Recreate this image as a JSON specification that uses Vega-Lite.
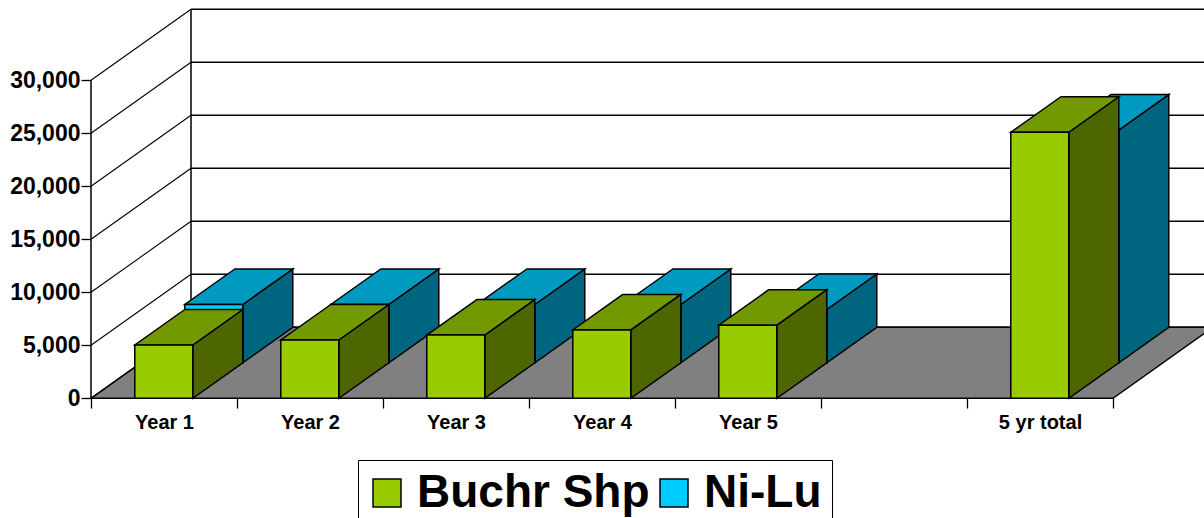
{"$schema":"https://vega.github.io/schema/vega-lite/v6.json","width":1204,"height":518,"autosize":"none","padding":0,"background":"white",
"datasets":{"bars":[
{"category":"Year 1","series":"Ni-Lu","value":5500},{"category":"Year 2","series":"Ni-Lu","value":5500},{"category":"Year 3","series":"Ni-Lu","value":5500},{"category":"Year 4","series":"Ni-Lu","value":5500},{"category":"Year 5","series":"Ni-Lu","value":5030},{"category":"5 yr total","series":"Ni-Lu","value":21960},
{"category":"Year 1","series":"Buchr Shp","value":5030},{"category":"Year 2","series":"Buchr Shp","value":5500},{"category":"Year 3","series":"Buchr Shp","value":5970},{"category":"Year 4","series":"Buchr Shp","value":6450},{"category":"Year 5","series":"Buchr Shp","value":6900},{"category":"5 yr total","series":"Buchr Shp","value":25100}],
"grid":[{"level":0},{"level":5000},{"level":10000},{"level":15000},{"level":20000},{"level":25000},{"level":30000}],
"floor":[{"depth":0},{"depth":1}]},
"encoding":{
"x":{"field":"xa","type":"quantitative","scale":{"domain":[-0.6233,7.6233],"nice":false,"zero":false},"axis":{"orient":"bottom","offset":-120,"title":null,"domain":false,"grid":false,"values":[0,0.5,1,1.5,2,2.5,3,3.5,4,4.5,5,5.5,6,6.5,7],"labelExpr":"datum.value%1===0?'':['Year 1','Year 2','Year 3','Year 4','Year 5','','5 yr total'][floor(datum.value)]","tickOpacity":{"condition":{"test":"datum.value%1===0","value":1},"value":0},"tickColor":"black","tickSize":10,"tickWidth":1.3,"labelFont":"Liberation Sans","labelFontWeight":"bold","labelFontSize":20,"labelColor":"black","labelPadding":4,"labelOverlap":false,"labelFlush":false,"labelBound":false}},
"y":{"field":"ya","type":"quantitative","scale":{"domain":[-11292,37576],"nice":false,"zero":false},"axis":{"orient":"left","offset":-91,"title":null,"domain":false,"grid":false,"values":[0,5000,10000,15000,20000,25000,30000],"format":",d","tickColor":"black","tickSize":10,"tickWidth":1.3,"labelFont":"Liberation Sans","labelFontWeight":"bold","labelFontSize":23,"labelColor":"black","labelPadding":1,"labelOverlap":false,"labelBound":false}}},
"layer":[
{"data":{"name":"grid"},"mark":{"type":"rule","stroke":"black","strokeWidth":1.4,"clip":true},"transform":[{"calculate":"0.685","as":"xa"},{"calculate":"8","as":"xb"},{"calculate":"datum.level+6698","as":"ya"}],"encoding":{"x2":{"field":"xb"}}},
{"data":{"name":"grid"},"mark":{"type":"rule","stroke":"black","strokeWidth":1.1},"transform":[{"calculate":"0.685","as":"xb"},{"calculate":"0","as":"xa"},{"calculate":"datum.level","as":"ya"},{"calculate":"datum.level+6698","as":"yb"}],"encoding":{"x2":{"field":"xb"},"y2":{"field":"yb"}}},
{"data":{"name":"floor"},"mark":{"type":"rule","stroke":"black","strokeWidth":1.5},"transform":[{"calculate":"datum.depth*0.685","as":"xa"},{"calculate":"datum.depth*6698","as":"ya"},{"calculate":"datum.ya+30000","as":"yb"}],"encoding":{"y2":{"field":"yb"}}},
{"data":{"name":"floor"},"mark":{"type":"area","orient":"horizontal","fill":"#808080","stroke":"black","strokeWidth":1.4,"clip":true},"transform":[{"calculate":"datum.depth*0.685","as":"xa"},{"calculate":"7+datum.depth*0.685","as":"xb"},{"calculate":"datum.depth*6698","as":"ya"}],"encoding":{"x2":{"field":"xb"}}},

{"data":{"name":"bars"},"transform":[{"filter":"datum.series==='Ni-Lu'"},{"calculate":"indexof(['Year 1','Year 2','Year 3','Year 4','Year 5','','5 yr total'],datum.category)","as":"i"},{"calculate":"[0,1]","as":"t"},{"flatten":["t"]},{"calculate":"datum.i+0.697+0.3425+datum.t*0.3425","as":"xa"},{"calculate":"3349+datum.value+datum.t*3349","as":"ya"},{"calculate":"3349+datum.t*3349","as":"yb"}],"mark":{"type":"area","fill":"#006680","stroke":"black","strokeWidth":1.5},"encoding":{"y2":{"field":"yb"},"detail":{"field":"i"}}},
{"data":{"name":"bars"},"transform":[{"filter":"datum.series==='Ni-Lu'"},{"calculate":"indexof(['Year 1','Year 2','Year 3','Year 4','Year 5','','5 yr total'],datum.category)","as":"i"},{"calculate":"[0,1]","as":"t"},{"flatten":["t"]},{"calculate":"datum.i+0.3+0.3425+datum.t*0.3425","as":"xa"},{"calculate":"datum.i+0.697+0.3425+datum.t*0.3425","as":"xb"},{"calculate":"3349+datum.value+datum.t*3349","as":"ya"}],"mark":{"type":"area","orient":"horizontal","fill":"#0099BF","stroke":"black","strokeWidth":1.5},"encoding":{"x2":{"field":"xb"},"detail":{"field":"i"}}},
{"data":{"name":"bars"},"transform":[{"filter":"datum.series==='Ni-Lu'"},{"calculate":"indexof(['Year 1','Year 2','Year 3','Year 4','Year 5','','5 yr total'],datum.category)","as":"i"},{"calculate":"datum.i+0.3+0.3425","as":"xa"},{"calculate":"datum.i+0.697+0.3425","as":"xb"},{"calculate":"3349+datum.value","as":"ya"},{"calculate":"3349","as":"yb"}],"mark":{"type":"rect","stroke":"black","strokeWidth":1.5},"encoding":{"x2":{"field":"xb"},"y2":{"field":"yb"},"color":{"field":"series","type":"nominal","scale":{"domain":["Buchr Shp","Ni-Lu"],"range":["#99CC00","#00CCFF"]},"legend":{"orient":"none","legendX":358,"legendY":460,"direction":"horizontal","columns":2,"title":null,"strokeColor":"black","fillColor":"white","padding":10,"symbolType":"square","symbolSize":784,"symbolStrokeColor":"black","symbolStrokeWidth":1.5,"symbolOpacity":1,"symbolOffset":-4,"labelFont":"Liberation Sans","labelFontWeight":"bold","labelFontSize":46,"labelColor":"black","labelLimit":400,"labelOffset":7,"columnPadding":5,"gridAlign":"none"}}}},

{"data":{"name":"bars"},"transform":[{"filter":"datum.series==='Buchr Shp'"},{"calculate":"indexof(['Year 1','Year 2','Year 3','Year 4','Year 5','','5 yr total'],datum.category)","as":"i"},{"calculate":"[0,1]","as":"t"},{"flatten":["t"]},{"calculate":"datum.i+0.697+datum.t*0.3425","as":"xa"},{"calculate":"datum.value+datum.t*3349","as":"ya"},{"calculate":"datum.t*3349","as":"yb"}],"mark":{"type":"area","fill":"#4D6600","stroke":"black","strokeWidth":1.5},"encoding":{"y2":{"field":"yb"},"detail":{"field":"i"}}},
{"data":{"name":"bars"},"transform":[{"filter":"datum.series==='Buchr Shp'"},{"calculate":"indexof(['Year 1','Year 2','Year 3','Year 4','Year 5','','5 yr total'],datum.category)","as":"i"},{"calculate":"[0,1]","as":"t"},{"flatten":["t"]},{"calculate":"datum.i+0.3+datum.t*0.3425","as":"xa"},{"calculate":"datum.i+0.697+datum.t*0.3425","as":"xb"},{"calculate":"datum.value+datum.t*3349","as":"ya"}],"mark":{"type":"area","orient":"horizontal","fill":"#739900","stroke":"black","strokeWidth":1.5},"encoding":{"x2":{"field":"xb"},"detail":{"field":"i"}}},
{"data":{"name":"bars"},"transform":[{"filter":"datum.series==='Buchr Shp'"},{"calculate":"indexof(['Year 1','Year 2','Year 3','Year 4','Year 5','','5 yr total'],datum.category)","as":"i"},{"calculate":"datum.i+0.3","as":"xa"},{"calculate":"datum.i+0.697","as":"xb"},{"calculate":"datum.value","as":"ya"},{"calculate":"0","as":"yb"}],"mark":{"type":"rect","stroke":"black","strokeWidth":1.5},"encoding":{"x2":{"field":"xb"},"y2":{"field":"yb"},"color":{"field":"series","type":"nominal"}}}
],
"config":{"view":{"stroke":null}}
}
